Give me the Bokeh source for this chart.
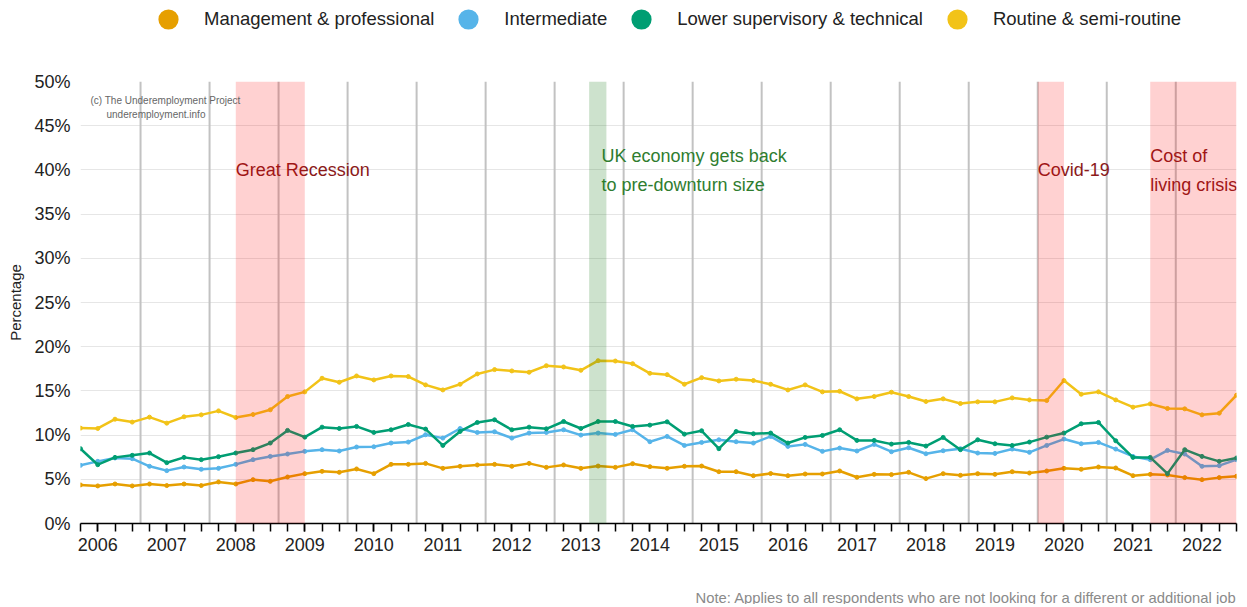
import pandas as pd
from bokeh.plotting import figure
from bokeh.layouts import column
from bokeh.models import (Range1d, SingleIntervalTicker, FixedTicker, PrintfTickFormatter,
                          BoxAnnotation, Span, Label, Legend, LegendItem, ColumnDataSource)
from bokeh.core.properties import value
from bokeh.embed import file_html
from bokeh.resources import INLINE

# ---------------- data ----------------
quarters = pd.period_range("2005Q4", "2022Q3", freq="Q")
x = [q.year + (q.quarter - 1) / 4 for q in quarters]

management = [4.36, 4.25, 4.47, 4.25, 4.47, 4.29, 4.47, 4.29, 4.70, 4.47, 4.96, 4.77, 5.26, 5.64,
              5.90, 5.79, 6.17, 5.64, 6.69, 6.69, 6.80, 6.24, 6.47, 6.62, 6.69, 6.47, 6.80,
              6.35, 6.62, 6.24, 6.50, 6.35, 6.77, 6.43, 6.24, 6.47, 6.50, 5.86, 5.86, 5.41,
              5.65, 5.41, 5.60, 5.60, 5.94, 5.23, 5.56, 5.53, 5.79, 5.08, 5.64, 5.45, 5.64, 5.56,
              5.86, 5.71, 5.94, 6.24, 6.13, 6.39, 6.28, 5.41, 5.56, 5.49, 5.19, 4.96, 5.19, 5.34]
intermediate = [6.58, 7.03, 7.41, 7.33, 6.47, 5.98, 6.39, 6.13, 6.24, 6.69, 7.22, 7.59, 7.86, 8.16,
                8.35, 8.20, 8.65, 8.68, 9.10, 9.21, 10.04, 9.66, 10.75, 10.30, 10.38, 9.66, 10.23,
                10.30, 10.60, 10.00, 10.23, 10.08, 10.60, 9.25, 9.85, 8.83, 9.17, 9.47, 9.25, 9.10,
                9.85, 8.72, 8.95, 8.16, 8.53, 8.20, 8.95, 8.12, 8.57, 7.89, 8.23, 8.46, 7.97, 7.93,
                8.42, 8.05, 8.83, 9.55, 9.02, 9.17, 8.42, 7.59, 7.22, 8.27, 7.86, 6.47, 6.54, 7.22]
lower_supervisory = [8.46, 6.65, 7.48, 7.71, 7.97, 6.88, 7.48, 7.22, 7.56, 7.97, 8.35, 9.10, 10.53, 9.77,
                     10.90, 10.75, 10.98, 10.30, 10.60, 11.20, 10.68, 8.83, 10.41, 11.43, 11.73, 10.60, 10.90,
                     10.71, 11.54, 10.75, 11.54, 11.54, 10.98, 11.13, 11.50, 10.11, 10.49, 8.46, 10.41, 10.15,
                     10.23, 9.10, 9.74, 9.96, 10.60, 9.40, 9.40, 8.98, 9.17, 8.76, 9.74, 8.35, 9.47, 9.02,
                     8.83, 9.21, 9.77, 10.23, 11.28, 11.43, 9.36, 7.48, 7.48, 5.64, 8.35, 7.59, 7.03, 7.41]
routine = [10.79, 10.75, 11.80, 11.47, 12.03, 11.35, 12.07, 12.29, 12.74, 11.99, 12.33, 12.86, 14.36, 14.89,
           16.43, 15.98, 16.69, 16.24, 16.69, 16.62, 15.68, 15.11, 15.75, 16.92, 17.41, 17.26, 17.11,
           17.85, 17.71, 17.33, 18.42, 18.38, 18.08, 16.99, 16.84, 15.75, 16.50, 16.13, 16.32, 16.17,
           15.75, 15.11, 15.68, 14.89, 14.96, 14.10, 14.36, 14.85, 14.36, 13.80, 14.10, 13.57, 13.76, 13.76,
           14.21, 13.98, 13.91, 16.17, 14.62, 14.89, 13.98, 13.16, 13.53, 13.01, 12.97, 12.29, 12.48, 14.51]

series_names = ["Management & professional", "Intermediate",
                "Lower supervisory & technical", "Routine & semi-routine"]
series_values = [management, intermediate, lower_supervisory, routine]
series_colors = ["#e69f00", "#56b4e9", "#009e73", "#f2c318"]

# shaded periods
periods_start = [2008.0, 2013.12, 2019.62, 2021.25]
periods_end = [2009.0, 2013.37, 2020.0, None]
periods_color = ["red", "#1b7a1b", "red", "red"]
periods_alpha = [0.18, 0.22, 0.18, 0.18]

# vertical dividers
divider_x = [2006.62, 2007.62, 2008.62, 2009.62, 2010.62, 2011.62, 2012.62, 2013.62,
             2014.62, 2015.62, 2016.62, 2017.62, 2018.62, 2019.62, 2020.62, 2021.62]

# annotation texts
ann_text = ["Great Recession", "UK economy gets back", "to pre-downturn size",
            "Covid-19", "Cost of", "living crisis"]
ann_x = [2008.0, 2013.3, 2013.3, 2019.62, 2021.25, 2021.25]
ann_y = [40.0, 41.6, 38.3, 40.0, 41.6, 38.3]
ann_color = ["#8b1a1a", "#2f7d2f", "#2f7d2f", "#8b1a1a", "#8b1a1a", "#8b1a1a"]

y_ticks = [0, 5, 10, 15, 20, 25, 30, 35, 40, 45, 50]

note_text = "Note: Applies to all respondents who are not looking for a different or additional job"

FONT = "Liberation Sans"
W = 1244

# ---------------- legend strip ----------------
pl = figure(width=W, height=40, output_backend="svg", toolbar_location=None,
            x_range=Range1d(0, 1), y_range=Range1d(0, 1),
            x_axis_type=None, y_axis_type=None,
            min_border_left=0, min_border_right=0, min_border_top=0, min_border_bottom=0)
pl.outline_line_color = None
pl.xgrid.grid_line_color = None
pl.ygrid.grid_line_color = None
legend_items = []
for name, col in zip(series_names, series_colors):
    # swatch renderer: its single point lies outside the strip's range, only the legend shows it
    r = pl.scatter(x=[0.5], y=[-5], marker="circle", size=10, fill_color=col,
                   line_color=col, line_width=5)
    legend_items.append(LegendItem(label=name, renderers=[r]))
legend = Legend(items=legend_items, orientation="horizontal", location=(69, 2),
                glyph_width=38, glyph_height=38, label_standoff=17, spacing=15,
                padding=0, margin=0, border_line_color=None, background_fill_alpha=0,
                label_text_font=FONT, label_text_font_size="18.5px", label_text_color="#222222")
pl.add_layout(legend)

# ---------------- main chart ----------------
p = figure(width=W, height=535, output_backend="svg", toolbar_location=None,
           x_range=Range1d(2005.75, 2022.5), y_range=Range1d(0, 50),
           min_border_left=80, min_border_right=8, min_border_top=41, min_border_bottom=52)
p.outline_line_color = None
p.background_fill_color = "white"

p.xgrid.grid_line_color = None
p.ygrid.ticker = FixedTicker(ticks=y_ticks)
p.ygrid.grid_line_color = "#e6e6e6"
p.ygrid.grid_line_width = 1

p.yaxis.ticker = FixedTicker(ticks=y_ticks)
p.yaxis.formatter = PrintfTickFormatter(format="%d%%")
p.yaxis.axis_line_color = None
p.yaxis.major_tick_line_color = None
p.yaxis.minor_tick_line_color = None
p.yaxis.major_label_standoff = 4
p.yaxis.major_label_text_font = FONT
p.yaxis.major_label_text_font_size = "18px"
p.yaxis.major_label_text_color = "#222222"
p.yaxis.axis_label = "Percentage"
p.yaxis.axis_label_text_font = FONT
p.yaxis.axis_label_text_font_size = "15px"
p.yaxis.axis_label_text_font_style = "normal"
p.yaxis.axis_label_text_color = "#222222"
p.yaxis.axis_label_standoff = 7

p.xaxis.ticker = SingleIntervalTicker(interval=1, num_minor_ticks=4)
p.xaxis.axis_line_color = "black"
p.xaxis.axis_line_width = 1.5
p.xaxis.major_tick_line_color = "black"
p.xaxis.minor_tick_line_color = "black"
p.xaxis.major_tick_line_width = 1.5
p.xaxis.minor_tick_line_width = 1.5
p.xaxis.major_tick_out = 8
p.xaxis.minor_tick_out = 8
p.xaxis.major_tick_in = 0
p.xaxis.minor_tick_in = 0
p.xaxis.major_label_standoff = 6
p.xaxis.major_label_text_font = FONT
p.xaxis.major_label_text_font_size = "18px"
p.xaxis.major_label_text_color = "#222222"

for dx in divider_x:
    p.add_layout(Span(location=dx, dimension="height", line_color="#c2c2c2",
                      line_width=2, level="underlay"))

for vals, col in zip(series_values, series_colors):
    src = ColumnDataSource(dict(x=x, y=vals))
    p.line("x", "y", source=src, line_color=col, line_width=2.5)
    p.scatter("x", "y", source=src, size=4, fill_color=col, line_color=col)

for s, e, c, a in zip(periods_start, periods_end, periods_color, periods_alpha):
    p.add_layout(BoxAnnotation(left=s, right=e, fill_color=c, fill_alpha=a, line_color=None))

ann_src = ColumnDataSource(dict(x=ann_x, y=ann_y, text=ann_text, color=ann_color))
p.text("x", "y", text="text", source=ann_src, text_color="color", x_offset=0,
       text_font=value(FONT), text_font_size="18px", text_baseline="middle", text_align="left")

p.add_layout(Label(x=10, y=423, x_units="screen", y_units="screen",
                   text="(c) The Underemployment Project", text_font=FONT,
                   text_font_size="10px", text_color="#666666", text_baseline="middle"))
p.add_layout(Label(x=26, y=409, x_units="screen", y_units="screen",
                   text="underemployment.info", text_font=FONT,
                   text_font_size="10px", text_color="#666666", text_baseline="middle"))

# ---------------- note strip ----------------
pn = figure(width=W, height=29, output_backend="svg", toolbar_location=None,
            x_range=Range1d(0, 1), y_range=Range1d(0, 1),
            x_axis_type=None, y_axis_type=None,
            min_border_left=0, min_border_right=0, min_border_top=0, min_border_bottom=0)
pn.outline_line_color = None
pn.xgrid.grid_line_color = None
pn.ygrid.grid_line_color = None
pn.add_layout(Label(x=1156, y=7, x_units="screen", y_units="screen", text=note_text,
                    text_font=FONT, text_font_size="14.8px", text_color="#8a8a8a",
                    text_align="right", text_baseline="middle"))

layout = column(pl, p, pn, spacing=0)
open("out.html", "w").write(file_html(layout, INLINE))
